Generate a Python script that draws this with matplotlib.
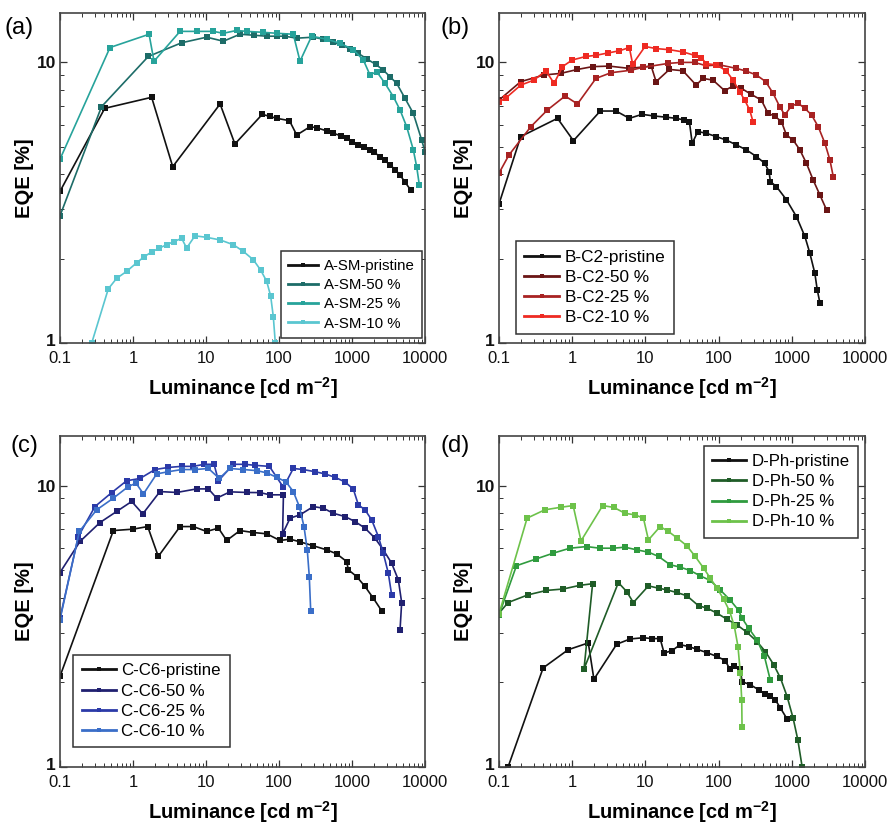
import matplotlib
matplotlib.use('Agg')
import matplotlib.pyplot as plt
from matplotlib.ticker import FixedLocator, FixedFormatter, NullFormatter, LogLocator
from matplotlib.transforms import ScaledTranslation

plt.rcParams['font.family'] = ['Liberation Sans', 'DejaVu Sans']
plt.rcParams['mathtext.fontset'] = 'custom'
plt.rcParams['mathtext.rm'] = 'Liberation Sans'
plt.rcParams['mathtext.bf'] = 'Liberation Sans:bold'

# ---- panel (a): A-SM ----
a_pristine_lum = [0.1, 0.41, 1.8, 3.5, 15.6, 24.9, 59, 75, 93, 139, 175, 266, 330, 450, 555, 700, 845,
                  1000, 1222, 1450, 1765, 2000, 2420, 2800, 3318, 3900, 4550, 5300, 6370]
a_pristine_eqe = [3.47, 6.86, 7.51, 4.25, 7.11, 5.12, 6.53, 6.42, 6.32, 6.20, 5.51, 5.90, 5.85, 5.70, 5.59,
                  5.48, 5.37, 5.20, 5.08, 5.00, 4.88, 4.78, 4.62, 4.48, 4.31, 4.15, 3.97, 3.75, 3.51]
a_50_lum = [0.1, 0.37, 1.62, 4.64, 10.2, 17.3, 29.2, 45, 67.7, 95, 120, 175, 295, 400, 555, 720, 940,
            1200, 1585, 2100, 2685, 3300, 4095, 5320, 6920, 9000, 10000]
a_50_eqe = [2.84, 6.95, 10.5, 11.75, 12.3, 11.9, 12.6, 12.5, 12.4, 12.4, 12.4, 12.2, 12.3, 12.1, 11.8,
            11.5, 11.2, 10.8, 10.3, 9.85, 9.39, 8.9, 8.42, 7.45, 6.58, 5.29, 4.81]
a_25_lum = [0.1, 0.484, 1.66, 1.94, 4.41, 7.45, 12.6, 17.3, 26.3, 36, 61, 93, 157, 194, 280, 450, 685,
            1043, 1430, 1765, 2180, 2834, 3683, 4550, 5610, 6920, 7690, 8360]
a_25_eqe = [4.52, 11.3, 12.6, 10.1, 12.9, 12.9, 12.9, 12.7, 13.0, 12.9, 12.8, 12.7, 12.6, 10.1, 12.4,
            12.1, 11.7, 11.1, 10.2, 9.02, 9.27, 8.42, 7.55, 6.77, 5.90, 4.88, 4.25, 3.66]
a_10_lum = [0.272, 0.459, 0.597, 0.818, 1.12, 1.42, 1.80, 2.30, 2.89, 3.65, 4.64, 5.43, 7.06, 10.2, 15.6,
            23.7, 32.5, 44.5, 56, 67.8, 76.9, 83.6, 89]
a_10_eqe = [1.0, 1.56, 1.70, 1.80, 1.93, 2.03, 2.11, 2.18, 2.24, 2.30, 2.36, 2.18, 2.41, 2.38, 2.33,
            2.24, 2.12, 1.98, 1.82, 1.66, 1.47, 1.24, 1.0]

# ---- panel (b): B-C2 ----
b_pristine_lum = [0.1, 0.198, 0.63, 1.04, 2.42, 3.97, 6.04, 9.0, 13.3, 19.2, 26.3, 34.2, 40, 43.6, 52,
                  67.8, 93, 127, 175, 239, 328, 427, 489, 510, 617, 845, 1158, 1507, 1765, 2066, 2224, 2420]
b_pristine_eqe = [3.13, 5.44, 6.32, 5.26, 6.71, 6.71, 6.32, 6.53, 6.44, 6.38, 6.32, 6.23, 6.11, 5.15, 5.67,
                  5.59, 5.44, 5.29, 5.08, 4.88, 4.62, 4.37, 4.08, 3.76, 3.61, 3.24, 2.82, 2.40, 2.09, 1.77, 1.55, 1.39]
b_50_lum = [0.1, 0.198, 0.413, 0.70, 1.18, 1.90, 3.21, 6.04, 12.0, 14.0, 21.3, 32.5, 49.4, 61, 83.6, 121,
            157, 205, 280, 384, 474, 585, 722, 845, 1043, 1288, 1585, 1958, 2420, 2987]
b_50_eqe = [7.34, 8.54, 9.02, 9.14, 9.44, 9.66, 9.70, 9.52, 9.70, 8.54, 9.44, 9.34, 8.30, 8.77, 8.65, 7.93,
            8.24, 8.08, 7.69, 7.34, 6.58, 6.44, 6.15, 5.51, 5.29, 4.88, 4.37, 3.81, 3.37, 2.98]
b_25_lum = [0.1, 0.137, 0.272, 0.459, 0.80, 1.18, 2.11, 3.39, 6.37, 9.2, 20.6, 30.8, 46.9, 67.8, 103, 175,
            239, 328, 440, 555, 685, 802, 990, 1222, 1507, 1862, 2296, 2834, 3318, 3683]
b_25_eqe = [4.03, 4.68, 5.90, 6.77, 7.59, 7.11, 8.77, 9.19, 9.38, 9.60, 9.92, 10.0, 10.0, 9.73, 9.80, 9.52,
            9.31, 9.02, 8.54, 7.76, 6.95, 6.50, 6.99, 7.15, 6.86, 6.50, 5.90, 5.15, 4.49, 3.92]
b_10_lum = [0.1, 0.123, 0.198, 0.301, 0.436, 0.566, 0.737, 1.0, 1.54, 2.11, 3.05, 4.41, 6.04, 6.70, 9.9,
            14.0, 21.3, 32.5, 46.9, 58, 67.8, 93, 127, 157, 194, 227, 266, 295]
b_10_eqe = [7.24, 7.45, 8.30, 8.65, 9.34, 8.42, 9.66, 10.2, 10.5, 10.6, 10.8, 11.0, 11.3, 9.86, 11.4,
            11.2, 11.1, 10.9, 10.6, 10.4, 9.9, 9.8, 9.34, 8.65, 7.87, 7.34, 6.77, 6.15]

# ---- panel (c): C-C6 ----
c_pristine_lum = [0.1, 0.538, 1.0, 1.59, 2.22, 4.41, 6.70, 10.2, 14.8, 19.2, 29.2, 44.5, 67.8, 103, 142,
                  194, 295, 450, 617, 845, 891, 1158, 1507, 1958, 2548]
c_pristine_eqe = [2.10, 6.92, 7.0, 7.15, 5.60, 7.15, 7.15, 6.87, 7.06, 6.38, 6.92, 6.81, 6.74, 6.38, 6.45,
                  6.31, 6.11, 5.91, 5.72, 5.37, 5.02, 4.75, 4.38, 3.98, 3.59]
c_50_lum = [0.1, 0.188, 0.353, 0.597, 0.96, 1.36, 2.34, 3.97, 7.45, 10.8, 14.0, 21.3, 36, 55, 75, 115,
            112, 142, 194, 295, 405, 555, 802, 1099, 1507, 2066, 2685, 3490, 4315, 4790, 4550]
c_50_eqe = [4.91, 6.33, 7.39, 8.09, 8.78, 7.93, 9.52, 9.45, 9.73, 9.73, 9.02, 9.50, 9.45, 9.44, 9.27, 9.27,
            6.74, 7.66, 7.87, 8.42, 8.31, 7.97, 7.76, 7.45, 7.06, 6.50, 5.91, 5.30, 4.62, 3.84, 3.07]
c_25_lum = [0.1, 0.178, 0.301, 0.511, 0.818, 1.25, 2.0, 3.05, 4.64, 6.7, 9.4, 12.9, 14.8, 23.7, 34.2,
            46.9, 73.8, 115, 157, 215, 311, 427, 585, 802, 1043, 1222, 1507, 1862, 2296, 2685, 3145, 3490]
c_25_eqe = [3.38, 6.59, 8.42, 9.44, 10.4, 10.6, 11.4, 11.6, 11.7, 11.7, 11.9, 11.9, 10.4, 11.9, 11.9,
            11.8, 11.7, 9.86, 11.5, 11.4, 11.2, 11.0, 10.7, 10.3, 9.71, 8.54, 8.20, 7.55, 6.59, 5.75, 4.88, 4.09]
c_10_lum = [0.1, 0.184, 0.318, 0.538, 0.863, 1.10, 1.39, 2.11, 3.05, 4.64, 7.06, 10.8, 15.2, 21.3, 32.5,
            49.4, 67.8, 93, 125, 157, 190, 220, 244, 260, 272]
c_10_eqe = [3.34, 6.87, 8.20, 9.02, 9.92, 10.2, 9.34, 11.0, 11.2, 11.4, 11.4, 11.5, 10.6, 11.5, 11.4,
            11.3, 11.1, 10.7, 10.3, 9.52, 8.42, 7.15, 5.91, 4.75, 3.57]

# ---- panel (d): D-Ph ----
d_pristine_lum = [0.133, 0.401, 0.88, 1.66, 1.98, 4.05, 6.17, 9.4, 12.2, 15.9, 18.0, 23.0, 29.9, 38.8,
                  50.5, 69.2, 95, 123, 142, 161, 198, 209, 272, 353, 436, 510, 597, 700, 863]
d_pristine_eqe = [1.0, 2.25, 2.61, 2.76, 2.05, 2.73, 2.85, 2.88, 2.86, 2.86, 2.54, 2.59, 2.72, 2.68,
                  2.62, 2.55, 2.47, 2.39, 2.23, 2.28, 2.23, 2.01, 1.96, 1.88, 1.81, 1.79, 1.73, 1.62, 1.48]
d_50_lum = [0.1, 0.133, 0.249, 0.445, 0.753, 1.27, 1.90, 1.45, 4.27, 5.55, 6.85, 11.0, 15.1, 19.6, 26.8,
            36.8, 53.2, 69.2, 95, 130, 178, 244, 335, 436, 566, 700, 863, 1043, 1208, 1386]
d_50_eqe = [3.52, 3.84, 4.09, 4.24, 4.29, 4.42, 4.48, 2.23, 4.52, 4.20, 3.84, 4.40, 4.32, 4.26, 4.17,
            4.06, 3.74, 3.67, 3.52, 3.35, 3.20, 3.01, 2.79, 2.57, 2.31, 2.07, 1.78, 1.49, 1.25, 1.0]
d_25_lum = [0.1, 0.173, 0.318, 0.549, 0.93, 1.57, 2.39, 3.65, 5.26, 7.6, 11.0, 15.1, 21.8, 29.9, 40.9,
            56, 76.9, 105, 145, 188, 209, 258, 335, 423, 510]
d_25_eqe = [3.47, 5.19, 5.48, 5.75, 5.99, 6.07, 5.99, 5.99, 6.04, 5.91, 5.80, 5.60, 5.23, 5.13, 4.99,
            4.78, 4.60, 4.26, 3.91, 3.60, 3.38, 3.11, 2.83, 2.47, 2.03]
d_10_lum = [0.1, 0.242, 0.423, 0.714, 1.03, 1.32, 2.61, 3.72, 5.26, 7.2, 9.4, 11.0, 15.9, 20.6, 27.4,
            36.8, 47.9, 62.4, 76.9, 95, 117, 142, 164, 184, 198, 207, 209]
d_10_eqe = [3.5, 7.66, 8.20, 8.38, 8.49, 6.36, 8.49, 8.36, 7.97, 7.87, 7.66, 6.41, 7.15, 6.87, 6.50,
            6.11, 5.60, 5.09, 4.69, 4.32, 3.95, 3.57, 3.16, 2.68, 2.16, 1.73, 1.39]

W, H = 889, 825
fig = plt.figure(figsize=(W / 100, H / 100), dpi=100)


def draw_panel(rect, series, names, colors, tag, tag_xy, leg_loc, leg_anchor, leg_size, leg_space):
    ax = fig.add_axes([rect[0] / W, 1 - rect[3] / H, (rect[2] - rect[0]) / W, (rect[3] - rect[1]) / H])
    for (lum, eqe), name, col in zip(series, names, colors):
        ax.plot(lum, eqe, '-s', color=col, lw=1.2, ms=3.8, mew=0, label=name)
    ax.set_xscale('log')
    ax.set_yscale('log')
    ax.set_xlim(0.1, 10000)
    ax.set_ylim(1, 15)
    ax.xaxis.set_major_locator(FixedLocator([0.1, 1, 10, 100, 1000, 10000]))
    ax.xaxis.set_major_formatter(FixedFormatter(['0.1', '1', '10', '100', '1000', '10000']))
    ax.xaxis.set_minor_locator(LogLocator(base=10, subs=range(2, 10), numticks=20))
    ax.xaxis.set_minor_formatter(NullFormatter())
    ax.yaxis.set_major_locator(FixedLocator([1, 10]))
    ax.yaxis.set_major_formatter(FixedFormatter(['1', '10']))
    ax.yaxis.set_minor_locator(LogLocator(base=10, subs=range(2, 10), numticks=20))
    ax.yaxis.set_minor_formatter(NullFormatter())
    ax.tick_params(which='both', direction='in', top=True, right=True, colors='#333333', labelcolor='#111111')
    ax.tick_params(which='major', length=5, width=0.9)
    ax.tick_params(which='minor', length=2.8, width=0.7)
    ax.tick_params(axis='x', labelsize=12, pad=5.5)
    ax.tick_params(axis='y', labelsize=12.5, pad=3)
    for lab in ax.get_yticklabels():
        lab.set_fontweight('bold')
    # the "1" on the y axis sits just above the "0.1" of the x axis
    low = ax.yaxis.get_major_ticks()[0].label1
    low.set_transform(low.get_transform() + ScaledTranslation(0, 0.03, fig.dpi_scale_trans))
    for sp in ax.spines.values():
        sp.set_color('#444444')
        sp.set_linewidth(1.2)
    ax.set_xlabel(r'Luminance [cd m$^{\mathbf{-2}}$]', fontsize=14.5, fontweight='bold', labelpad=7)
    ax.set_ylabel('EQE [%]', fontsize=14.5, fontweight='bold', labelpad=2)
    leg = ax.legend(loc=leg_loc, bbox_to_anchor=leg_anchor, fontsize=leg_size, frameon=True, fancybox=False,
                    edgecolor='#333333', framealpha=1, numpoints=1, handlelength=2.0, labelspacing=leg_space,
                    borderpad=0.5, borderaxespad=0.0, handletextpad=0.35, markerscale=0.8)
    leg.get_frame().set_linewidth(1.1)
    for line in leg.get_lines():
        line.set_linewidth(2.0)
    fig.text(tag_xy[0] / W, 1 - tag_xy[1] / H, tag, fontsize=17, ha='left', va='center')
    return ax


draw_panel((60, 13, 425, 343),
           [(a_pristine_lum, a_pristine_eqe), (a_50_lum, a_50_eqe), (a_25_lum, a_25_eqe), (a_10_lum, a_10_eqe)],
           ['A-SM-pristine', 'A-SM-50 %', 'A-SM-25 %', 'A-SM-10 %'],
           ['#111111', '#1d6c68', '#27a39b', '#5ac6d0'],
           '(a)', (5, 28), 'lower right', (0.992, 0.015), 10.8, 0.35)

draw_panel((499, 13, 865, 343),
           [(b_pristine_lum, b_pristine_eqe), (b_50_lum, b_50_eqe), (b_25_lum, b_25_eqe), (b_10_lum, b_10_eqe)],
           ['B-C2-pristine', 'B-C2-50 %', 'B-C2-25 %', 'B-C2-10 %'],
           ['#111111', '#6a1515', '#a82222', '#ee2a22'],
           '(b)', (441, 28), 'lower left', (0.046, 0.027), 12.4, 0.3)

draw_panel((60, 436, 425, 767),
           [(c_pristine_lum, c_pristine_eqe), (c_50_lum, c_50_eqe), (c_25_lum, c_25_eqe), (c_10_lum, c_10_eqe)],
           ['C-C6-pristine', 'C-C6-50 %', 'C-C6-25 %', 'C-C6-10 %'],
           ['#111111', '#202070', '#2b3aa8', '#3a6ec8'],
           '(c)', (11, 446), 'lower left', (0.036, 0.06), 12.2, 0.3)

draw_panel((499, 436, 865, 767),
           [(d_pristine_lum, d_pristine_eqe), (d_50_lum, d_50_eqe), (d_25_lum, d_25_eqe), (d_10_lum, d_10_eqe)],
           ['D-Ph-pristine', 'D-Ph-50 %', 'D-Ph-25 %', 'D-Ph-10 %'],
           ['#111111', '#1f5c27', '#2f9b3e', '#6dc24a'],
           '(d)', (441, 446), 'upper right', (0.981, 0.97), 12.1, 0.3)

fig.savefig('out.png', dpi=100)
